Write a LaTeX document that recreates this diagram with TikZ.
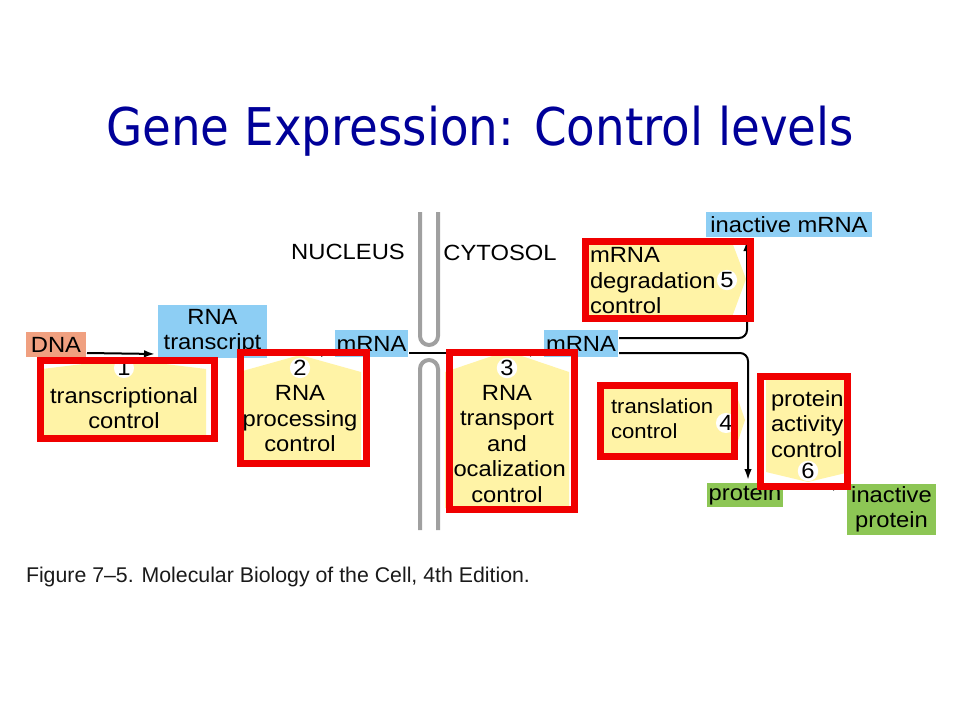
\documentclass[tikz,border=0pt]{standalone}
\usepackage{fontspec}
\setmainfont{Liberation Sans}
\newfontfamily\titlefont[FakeStretch=0.9]{DejaVu Sans}
\newfontfamily\lblfont[FakeStretch=1.08]{Liberation Sans}
\usetikzlibrary{arrows.meta}
\definecolor{myNavy}{HTML}{000099}
\definecolor{myBlue}{HTML}{8DCEF4}
\definecolor{mySalmon}{HTML}{F0A080}
\definecolor{myYellow}{HTML}{FFF3A6}
\definecolor{myGreen}{HTML}{8DC655}
\definecolor{myRed}{HTML}{F00000}
\definecolor{myGray}{HTML}{A0A0A0}
\definecolor{myCap}{HTML}{1A1A1A}

\begin{document}
\begin{tikzpicture}[x=1pt, y=-1pt, >={Latex[length=11pt,width=7.5pt]}, line width=2pt]
  \tikzstyle{L}=[inner sep=0pt, align=center, font=\lblfont\fontsize{22}{25.5}\selectfont]
  \tikzstyle{Blue}=[L, fill=myBlue]
  \tikzstyle{Green}=[L, fill=myGreen]
  \tikzstyle{N}=[circle, fill=white, inner sep=0pt, minimum size=18pt, font=\lblfont\fontsize{22}{25}\selectfont]
  \tikzstyle{Y}=[fill=myYellow]
  \tikzstyle{F}=[draw=myRed, line width=7pt]
  \tikzstyle{W}=[myGray, line width=4pt, rounded corners=9pt]
  \tikzstyle{E}=[->, shorten >=2pt]

  \useasboundingbox[fill=white] (0,0) rectangle (960,720);

  \node[font=\titlefont\fontsize{52}{60}\selectfont, text=myNavy, anchor=base] at (480,145) (title) {Gene Expression: Control levels};

  % membrane
  \draw[W] (420,212) -- (420,345) -- (438,345) -- (438,212);
  \draw[W] (420,530) -- (420,360) -- (438,360) -- (438,530);
  \node[L] at (348,252) (nuc) {NUCLEUS};
  \node[L] at (500,253) (cyt) {CYTOSOL};

  % molecules
  \node[L, fill=mySalmon, minimum width=60pt, minimum height=25pt] at (56,344.5) (DNA) {DNA};
  \node[Blue, minimum width=109pt, minimum height=53pt] at (212.5,331.5) (trans) {RNA\\transcript};
  \node[Blue, minimum width=73pt, minimum height=27pt] at (371.5,343.5) (mRNAn) {mRNA};
  \node[Blue, minimum width=74pt, minimum height=27pt] at (581,343.5) (mRNAc) {mRNA};
  \node[Blue, minimum width=166pt, minimum height=25pt] at (789,224.5) (inmRNA) {inactive mRNA};
  \node[Green, minimum width=76pt, minimum height=24pt] at (745,495) (prot) {protein};
  \node[Green, minimum width=89pt, minimum height=51pt] at (891.5,509.5) (inprot) {inactive\\protein};

  \draw[E] ([yshift=5pt]DNA.south east) -- ([yshift=5pt]trans.south west);
  \draw[E] ([yshift=5pt]trans.south east) -- ([yshift=5pt]mRNAn.south west);
  \draw[E] ([yshift=5pt]mRNAn.south east) -- ([yshift=5pt]mRNAc.south west);
  \draw[E, rounded corners=8pt] ([yshift=20pt]mRNAc.south east) -| ([xshift=42pt]inmRNA.south west);
  \draw[E, rounded corners=8pt] ([yshift=5pt]mRNAc.south east) -| ([xshift=3pt]prot.north);
  \draw[E] ([yshift=-5pt]prot.north east) -- ([yshift=-4pt]inprot.north west);

  % control steps
  \fill[Y] (42,436) -- (42,369) -- (124,359) -- (206,369) -- (206,436) -- cycle;
  \fill[Y] (239,461) -- (239,372) -- (300,355) -- (361,372) -- (361,461) -- cycle;
  \fill[Y] (445,508) -- (445,372) -- (507,351) -- (569,372) -- (569,508) -- cycle;
  \fill[Y] (601,385) -- (733,385) -- (745,420) -- (733,456) -- (601,456) -- cycle;
  \fill[Y] (586,242) -- (732,242) -- (746,279) -- (732,317) -- (586,317) -- cycle;
  \fill[Y] (766,380) -- (850,380) -- (850,472) -- (808,482) -- (766,472) -- cycle;

  \node[L] at (124,408) (t1) {transcriptional\\control};
  \node[L] at (300,419) (t2) {RNA\\processing\\control};
  \node[L] at (507,444) (t3) {RNA\\transport\\and\\localization\\control};
  \node[L, align=left, anchor=west, font=\lblfont\fontsize{20.5}{25}\selectfont] at (610,419) (t4) {translation\\control};
  \node[L, align=left, anchor=west] at (589,281) (t5) {mRNA\\degradation\\control};
  \node[L, align=left, anchor=west] at (770,424) (t6) {protein\\activity\\control};

  \node[N] at (124,368) (n1) {1};
  \node[N] at (300,368) (n2) {2};
  \node[N] at (507,368) (n3) {3};
  \node[N] at (726,423) (n4) {4};
  \node[N] at (727,280) (n5) {5};
  \node[N] at (808,471) (n6) {6};

  % highlight frames
  \draw[F] (40.5,360.5) rectangle (214.5,438.5);
  \draw[F] (240.5,352.5) rectangle (366.5,463.5);
  \draw[F] (449.5,352.5) rectangle (574.5,509.5);
  \draw[F] (600.5,385.5) rectangle (734.5,456.5);
  \draw[F] (585.5,241.5) rectangle (750.5,318.5);
  \draw[F] (760.5,376.5) rectangle (847.5,486.5);

  \node[anchor=base west, inner sep=0pt, font=\fontsize{21.3}{25}\selectfont, text=myCap] at (25,582) (cap) {Figure 7–5. Molecular Biology of the Cell, 4th Edition.};
\end{tikzpicture}
\end{document}
